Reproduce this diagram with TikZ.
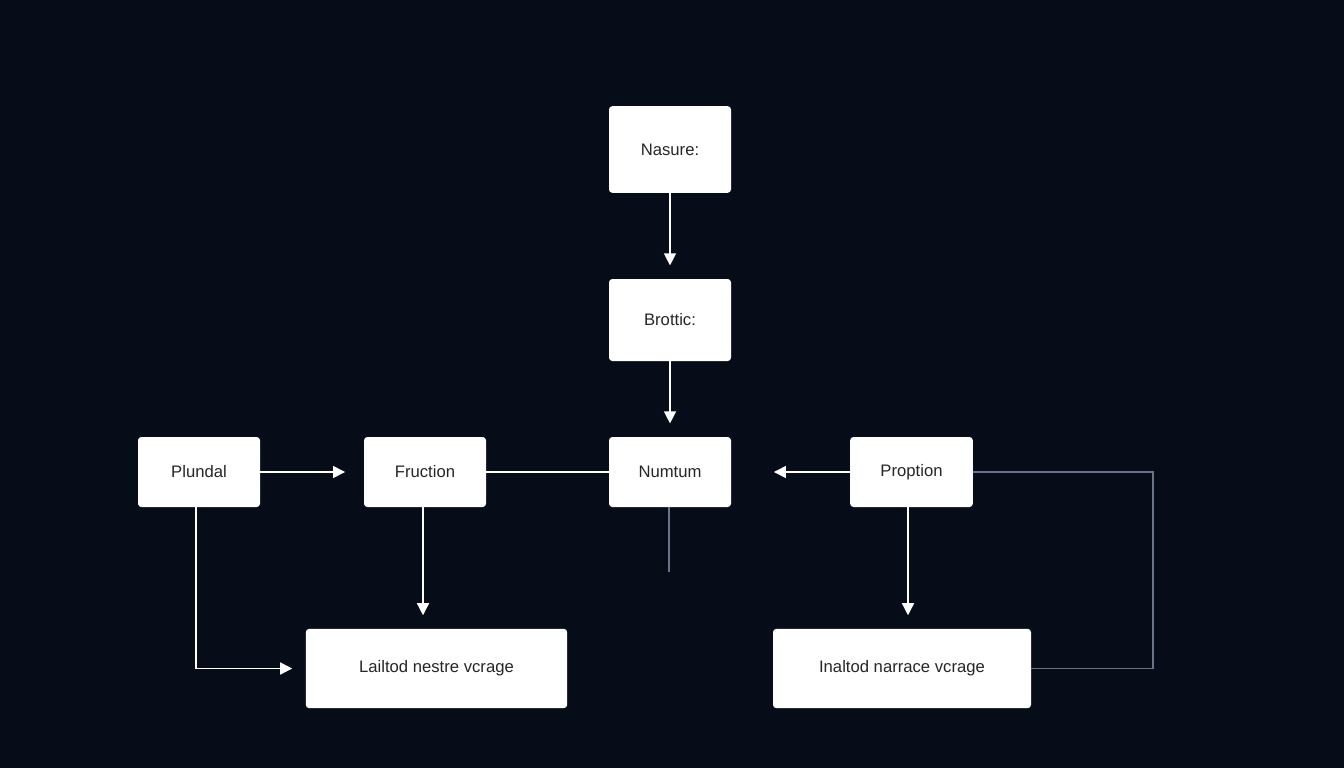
\documentclass[tikz,border=0pt]{standalone}
\usepackage{fontspec}
\setmainfont{Liberation Sans}
\usetikzlibrary{arrows.meta}
\definecolor{bg}{HTML}{070D18}
\definecolor{dim}{HTML}{6A7488}
\tikzset{
  box/.style={draw=none,fill=white,rounded corners=2.5pt,inner sep=0pt,font=\fontsize{12.5}{14}\selectfont,text=black!85},
  conn/.style={draw=white,line width=1pt},
  arr/.style={conn,-{Triangle[length=9pt,width=9pt]},shorten >=10pt}
}
\begin{document}
\begin{tikzpicture}[x=0.75pt,y=-0.75pt]
\fill[bg] (0,0) rectangle (1344,768);
\node[box,minimum width=91.5pt,minimum height=65pt] (nas) at (670,149.5) {Nasure:};
\node[box,minimum width=91.5pt,minimum height=61.5pt] (bro) at (670,320) {Brottic:};
\node[box,minimum width=91.5pt,minimum height=52.5pt] (plu) at (199,472) {Plundal};
\node[box,minimum width=91.5pt,minimum height=52.5pt] (fru) at (425,472) {Fruction};
\node[box,minimum width=91.5pt,minimum height=52.5pt] (num) at (670,472) {Numtum};
\node[box,minimum width=92pt,minimum height=52.5pt] (pro) at (911.5,472) {Proption};
\node[box,minimum width=196pt,minimum height=59.5pt] (lai) at (436.5,668.5) {Lailtod nestre vcrage};
\node[box,minimum width=193.5pt,minimum height=59.5pt] (ina) at (902,668.5) {Inaltod narrace vcrage};
\coordinate (stub) at (669,572);
\coordinate (pc) at (1153,472);
\coordinate (pd) at (1153,668.5);
\draw[arr] (nas) -- (bro);
\draw[arr] (bro) -- (num);
\draw[arr,shorten >=14pt] (plu) -- (fru);
\draw[conn,line width=0.8pt] (fru) -- (num);
\draw[arr,shorten >=32pt] (pro) -- (num);
\draw[conn,draw=dim,line width=0.8pt] (num.south -| stub) -- (stub);
\draw[arr] (plu.south -| 196,0) |- (lai.west);
\draw[arr] (fru.south -| 423,0) -- (lai.north -| 423,0);
\draw[arr] (pro.south -| 908,0) -- (ina.north -| 908,0);
\draw[conn,draw=dim,line width=0.8pt] (pro.east) -- (pc) -- (pd) -- (ina.east);
\end{tikzpicture}
\end{document}
